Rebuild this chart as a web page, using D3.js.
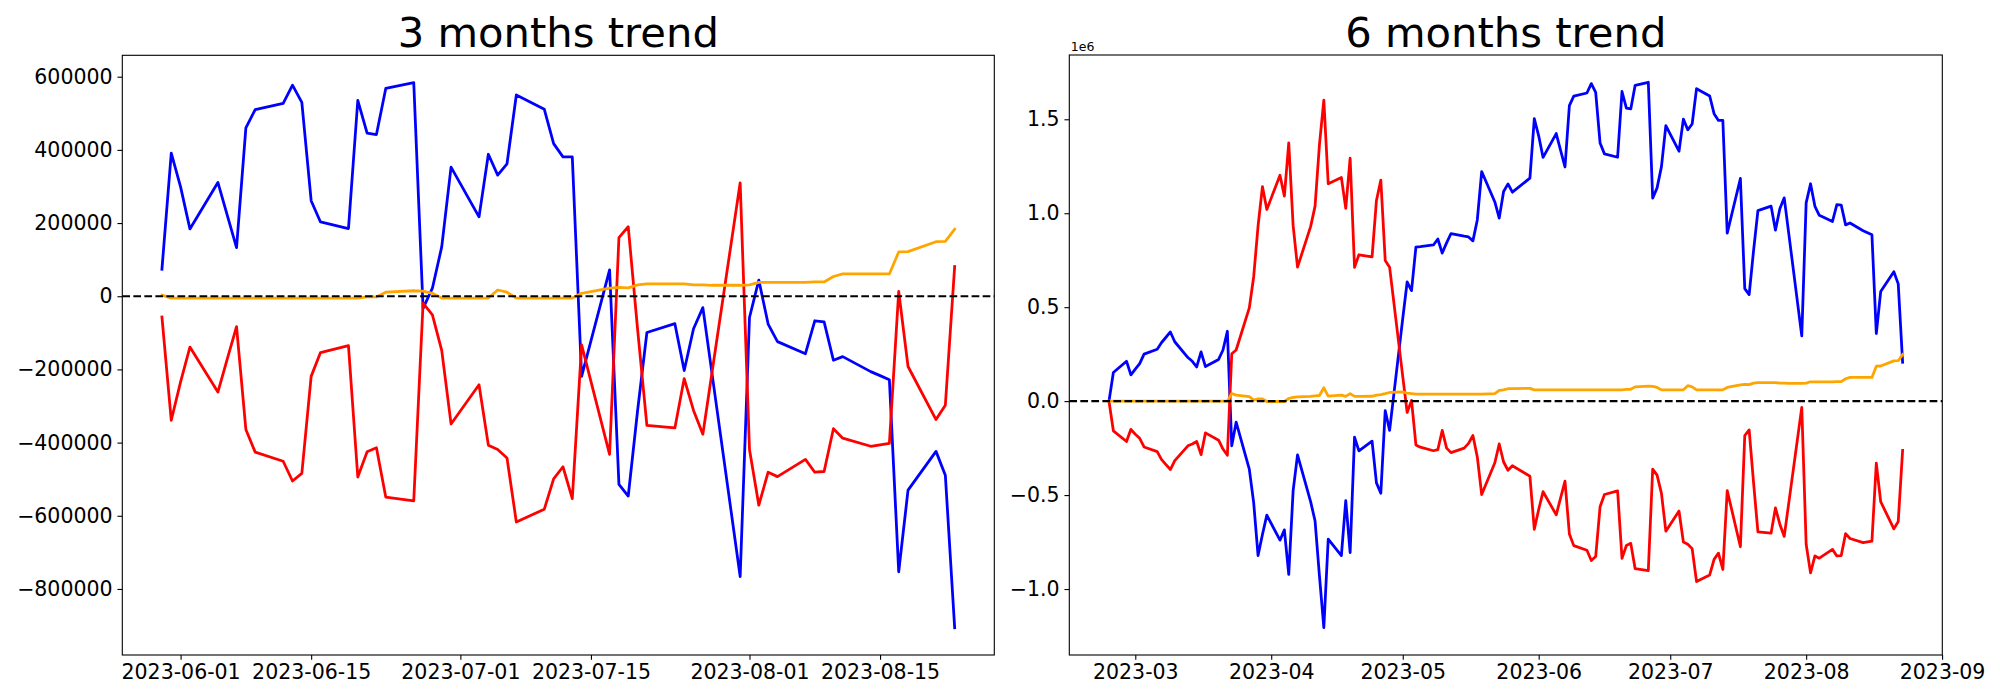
<!DOCTYPE html>
<html><head><meta charset="utf-8">
<script src="https://cdn.jsdelivr.net/npm/d3@7"></script>
<style>body{margin:0;background:#fff} svg{display:block}</style>
</head><body><svg id="c" width="2000" height="700"></svg>
<script>
// ---------- DATA ----------
const dates3m = ["2023-05-30","2023-05-31","2023-06-01","2023-06-02","2023-06-05","2023-06-06","2023-06-07","2023-06-08","2023-06-09","2023-06-12","2023-06-13","2023-06-14","2023-06-15","2023-06-16","2023-06-19","2023-06-20","2023-06-21","2023-06-22","2023-06-23","2023-06-26","2023-06-27","2023-06-28","2023-06-29","2023-06-30","2023-07-03","2023-07-04","2023-07-05","2023-07-06","2023-07-07","2023-07-10","2023-07-11","2023-07-12","2023-07-13","2023-07-14","2023-07-17","2023-07-18","2023-07-19","2023-07-20","2023-07-21","2023-07-24","2023-07-25","2023-07-26","2023-07-27","2023-07-28","2023-07-31","2023-08-01","2023-08-02","2023-08-03","2023-08-04","2023-08-07","2023-08-08","2023-08-09","2023-08-10","2023-08-11","2023-08-14","2023-08-15","2023-08-16","2023-08-17","2023-08-18","2023-08-21","2023-08-22","2023-08-23"];
const dates6mEarly = ["2023-02-23","2023-02-24","2023-02-27","2023-02-28","2023-03-01","2023-03-02","2023-03-03","2023-03-06","2023-03-07","2023-03-08","2023-03-09","2023-03-10","2023-03-13","2023-03-14","2023-03-15","2023-03-16","2023-03-17","2023-03-20","2023-03-21","2023-03-22","2023-03-23","2023-03-24","2023-03-27","2023-03-28","2023-03-29","2023-03-30","2023-03-31","2023-04-03","2023-04-04","2023-04-05","2023-04-06","2023-04-07","2023-04-10","2023-04-11","2023-04-12","2023-04-13","2023-04-14","2023-04-17","2023-04-18","2023-04-19","2023-04-20","2023-04-21","2023-04-24","2023-04-25","2023-04-26","2023-04-27","2023-04-28","2023-05-01","2023-05-02","2023-05-03","2023-05-04","2023-05-05","2023-05-08","2023-05-09","2023-05-10","2023-05-11","2023-05-12","2023-05-15","2023-05-16","2023-05-17","2023-05-18","2023-05-19","2023-05-22","2023-05-23","2023-05-24","2023-05-25","2023-05-26"];
const dates6m = dates6mEarly.concat(dates3m);

// 3 months (raw units)
const blue3m = [74000,391000,299000,184000, 311000,222000,133000,460000,510000, 527000,577000,530000,261000,203000, 185000,535000,446000,442000,568000, 584000,-33000,22000,135000,353000, 217000,388000,331000,362000,550000, 511000,417000,381000,381000,-219000, 72000,-514000,-546000,-313000,-99000, -75000,-203000,-89000,-31000,-215000, -766000,-58000,44000,-76000,-124000, -157000,-67000,-70000,-175000,-165000, -206000,-217000,-228000,-753000,-530000, -424000,-489000,-906000];
const red3m = [-57000,-339000,-234000,-139000, -262000,-172000,-83000,-364000,-426000, -451000,-505000,-484000,-219000,-154000, -135000,-494000,-425000,-414000,-549000, -559000,-19000,-51000,-148000,-349000, -242000,-407000,-419000,-442000,-617000, -582000,-499000,-466000,-553000,-133000, -432000,160000,190000,-90000,-353000, -360000,-225000,-312000,-377000,-205000, 310000,-419000,-571000,-481000,-493000, -446000,-481000,-479000,-362000,-388000, -410000,-406000,-402000,13000,-192000, -337000,-298000,81000];
const orange3m = [3000,-5000,-5000,-5000, -5000,-5000,-5000,-5000,-5000, -5000,-5000,-5000,-5000,-5000, -5000,-5000,-2000,-2000,11000, 15000,14000,8000,-5000,-5000, -5000,-5000,17000,11000,-5000, -5000,-5000,-5000,-5000,8000, 22000,24000,23000,31000,34000, 34000,34000,31000,31000,30000, 30000,31000,38000,38000,38000, 38000,39000,39000,54000,61000, 61000,61000,61000,121000,122000, 149000,150000,183000];

// 6 months (values in millions; axis offset text "1e6")
const blue6m = [0,0.152,0.212,0.140, 0.170,0.200,0.250, 0.276,0.312,0.340,0.368,0.316, 0.232,0.212,0.182,0.262,0.184, 0.222,0.272,0.372,-0.238,-0.112, -0.362,-0.540,-0.822,-0.710,-0.607, -0.740,-0.685,-0.922,-0.476,-0.286, -0.536,-0.638,-0.930,-1.206,-0.735, -0.822,-0.530,-0.806,-0.192,-0.265, -0.213,-0.435,-0.490,-0.050,-0.156, 0.440,0.634,0.588,0.820,0.822, 0.831,0.863,0.788,0.842,0.892, 0.878,0.874,0.853,0.964,1.222, 1.060,0.974,1.116,1.156,1.112,
  1.187,1.504,1.412,1.297, 1.424,1.335,1.246,1.573,1.623, 1.640,1.690,1.643,1.374,1.316, 1.298,1.648,1.559,1.555,1.681, 1.697,1.080,1.135,1.248,1.466, 1.330,1.501,1.444,1.475,1.663, 1.624,1.530,1.494,1.494,0.894, 1.185,0.599,0.567,0.800,1.014, 1.038,0.910,1.024,1.082,0.898, 0.347,1.055,1.157,1.037,0.989, 0.956,1.046,1.043,0.938,0.948, 0.907,0.896,0.885,0.360,0.583, 0.689,0.624,0.207];
const red6m = [0,-0.158,-0.215,-0.150, -0.176,-0.198,-0.244, -0.269,-0.311,-0.338,-0.364,-0.317, -0.238,-0.228,-0.215,-0.285,-0.169, -0.208,-0.255,-0.288,0.252,0.272, 0.496,0.662,0.932,1.142,1.020, 1.202,1.091,1.375,0.934,0.713, 0.930,1.038,1.365,1.602,1.157, 1.190,1.026,1.293,0.712,0.779, 0.768,1.068,1.176,0.749,0.713, 0.130,-0.060,0.004,-0.233,-0.245, -0.264,-0.258,-0.156,-0.250,-0.274, -0.250,-0.225,-0.183,-0.297,-0.497, -0.328,-0.228,-0.324,-0.368,-0.344,
  -0.400,-0.682,-0.577,-0.482, -0.605,-0.515,-0.426,-0.707,-0.769, -0.794,-0.848,-0.827,-0.562,-0.497, -0.478,-0.837,-0.768,-0.757,-0.892, -0.902,-0.362,-0.394,-0.491,-0.692, -0.585,-0.750,-0.762,-0.785,-0.960, -0.925,-0.842,-0.809,-0.896,-0.476, -0.775,-0.183,-0.153,-0.433,-0.696, -0.703,-0.568,-0.655,-0.720,-0.548, -0.033,-0.762,-0.914,-0.824,-0.836, -0.789,-0.824,-0.822,-0.705,-0.731, -0.753,-0.749,-0.745,-0.330,-0.535, -0.680,-0.641,-0.262];
const orange6m = [0,0,0,0, 0,0,0, 0,0,0,0,0, 0,0,0,0,0, 0,0,0,0.041,0.032, 0.024,0.005,0.012,0.012,-0.002, -0.002,-0.002,0.014,0.020,0.023, 0.025,0.028,0.030,0.071,0.027, 0.032,0.025,0.040,0.025,0.025, 0.026,0.032,0.035,0.040,0.046, 0.049,0.043,0.040,0.037,0.037, 0.037,0.037,0.037,0.037,0.037, 0.037,0.037,0.037,0.037,0.037, 0.040,0.057,0.060,0.066,0.066,
  0.068,0.060,0.060,0.060, 0.060,0.060,0.060,0.060,0.060, 0.060,0.060,0.060,0.060,0.060, 0.060,0.060,0.063,0.063,0.076, 0.080,0.079,0.073,0.060,0.060, 0.060,0.060,0.082,0.076,0.060, 0.060,0.060,0.060,0.060,0.073, 0.087,0.089,0.088,0.096,0.099, 0.099,0.099,0.096,0.096,0.095, 0.095,0.096,0.103,0.103,0.103, 0.103,0.104,0.104,0.119,0.126, 0.126,0.126,0.126,0.186,0.187, 0.214,0.215,0.248];

const xTicks3m = ["2023-06-01","2023-06-15","2023-07-01","2023-07-15","2023-08-01","2023-08-15"];
const xTicks6m = ["2023-03-01","2023-04-01","2023-05-01","2023-06-01","2023-07-01","2023-08-01","2023-09-01"];
const yTicks3m = [-800000,-600000,-400000,-200000,0,200000,400000,600000];
const yTicks6m = [-1.0,-0.5,0,0.5,1.0,1.5];
const titles = ["3 months trend","6 months trend"];
const seriesColors = ["blue","red","orange"];

// ---------- DRAW ----------
const parse = d3.utcParse("%Y-%m-%d");
const svg = d3.select("#c");
const FONT = "DejaVu Sans, sans-serif";
const MINUS = "\u2212";

function panel(cfg){
  const {left,right,top,bottom,dates,series,title,xTicks,xFmt,yTicks,yFmt,offsetText} = cfg;
  const ds = dates.map(parse);
  const ext = d3.extent(ds);
  const span = ext[1]-ext[0];
  const x = d3.scaleUtc().domain([new Date(+ext[0]-0.05*span), new Date(+ext[1]+0.05*span)]).range([left,right]);
  const [mn,mx] = d3.extent(series.flatMap(s=>s.values));
  const pad = (mx-mn)*0.05;
  const y = d3.scaleLinear().domain([mn-pad,mx+pad]).range([bottom,top]);
  const g = svg.append("g");
  const line = d3.line().x(d=>x(d[0])).y(d=>y(d[1]));
  series.forEach(s=>{
    g.append("path").datum(s.values.map((v,i)=>[ds[i],v]))
      .attr("d",line).attr("fill","none").attr("stroke",s.color)
      .attr("stroke-width",2.78).attr("stroke-linejoin","round").attr("stroke-linecap","square");
  });
  g.append("line").attr("x1",left).attr("x2",right).attr("y1",y(0)).attr("y2",y(0))
    .attr("stroke","#000").attr("stroke-width",2.08).attr("stroke-dasharray","7.7,3.33");
  g.append("rect").attr("x",left).attr("y",top).attr("width",right-left).attr("height",bottom-top)
    .attr("fill","none").attr("stroke","#000").attr("stroke-width",1.1);
  const xa = g.append("g").attr("transform",`translate(0,${bottom})`)
    .call(d3.axisBottom(x).tickValues(xTicks.map(parse)).tickFormat(xFmt).tickSize(4.86).tickPadding(4.86).tickSizeOuter(0));
  const ya = g.append("g").attr("transform",`translate(${left},0)`)
    .call(d3.axisLeft(y).tickValues(yTicks).tickFormat(yFmt).tickSize(4.86).tickPadding(4.86).tickSizeOuter(0));
  [xa,ya].forEach(a=>{
    a.select(".domain").remove();
    a.selectAll(".tick line").attr("stroke","#000").attr("stroke-width",1.1);
    a.selectAll(".tick text").attr("fill","#000").style("font-family",FONT).style("font-size","20.5px");
  });
  g.append("text").attr("x",(left+right)/2).attr("y",47).attr("text-anchor","middle")
    .style("font-family",FONT).style("font-size","41.7px").attr("fill","#000").text(title);
  if(offsetText){
    g.append("text").attr("x",left+1.5).attr("y",50.5).style("font-family",FONT).style("font-size","12.5px").attr("fill","#000").text(offsetText);
  }
}

panel({left:122.3,right:994.3,top:55.3,bottom:655,dates:dates3m,
  series:[{values:blue3m,color:seriesColors[0]},{values:red3m,color:seriesColors[1]},{values:orange3m,color:seriesColors[2]}],
  title:titles[0],xTicks:xTicks3m,xFmt:d3.utcFormat("%Y-%m-%d"),yTicks:yTicks3m,
  yFmt:d=>(d<0?MINUS:"")+Math.abs(d)});
panel({left:1069.3,right:1942.3,top:55,bottom:655,dates:dates6m,
  series:[{values:blue6m,color:seriesColors[0]},{values:red6m,color:seriesColors[1]},{values:orange6m,color:seriesColors[2]}],
  title:titles[1],xTicks:xTicks6m,xFmt:d3.utcFormat("%Y-%m"),yTicks:yTicks6m,
  yFmt:d=>(d<0?MINUS:"")+Math.abs(d).toFixed(1),offsetText:"1e6"});
</script></body></html>
